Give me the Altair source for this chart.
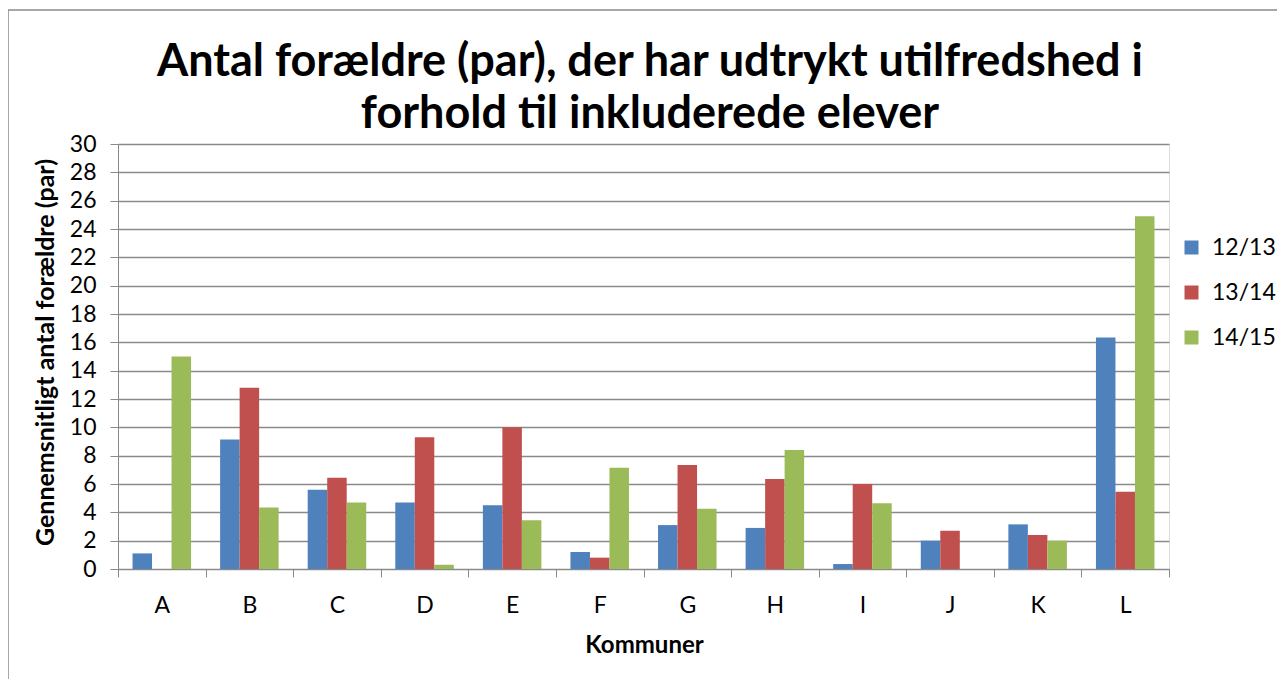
import altair as alt
import pandas as pd

kommuner = ["A", "B", "C", "D", "E", "F", "G", "H", "I", "J", "K", "L"]
series_names = ["12/13", "13/14", "14/15"]
v_12_13 = [1.1, 9.15, 5.6, 4.7, 4.5, 1.2, 3.1, 2.9, 0.35, 2.0, 3.15, 16.35]
v_13_14 = [0.0, 12.8, 6.45, 9.3, 10.0, 0.8, 7.35, 6.35, 6.0, 2.7, 2.4, 5.45]
v_14_15 = [15.0, 4.35, 4.7, 0.3, 3.45, 7.15, 4.25, 8.4, 4.65, 0.0, 2.0, 24.9]
colors = ["#4F81BD", "#C0504D", "#9BBB59"]
y_ticks = list(range(0, 31, 2))
title_lines = ["Antal forældre (par), der har udtrykt utilfredshed i",
               "forhold til inkluderede elever"]

rows = []
for name, vals in zip(series_names, [v_12_13, v_13_14, v_14_15]):
    for k, v in zip(kommuner, vals):
        rows.append({"Kommune": k, "Serie": name, "Værdi": v})
df = pd.DataFrame(rows)

FONT = "Lato"
GRID = "#8a8a8a"

bars = alt.Chart(df).mark_bar().encode(
    x=alt.X("Kommune:N", sort=kommuner,
            scale=alt.Scale(paddingInner=0, paddingOuter=0),
            axis=alt.Axis(title="Kommuner", labelAngle=0, tickBand="extent",
                          tickSize=8, tickColor=GRID, domainColor=GRID,
                          labelFontSize=23, labelFont=FONT, labelColor="#000",
                          labelPadding=17,
                          titleFont=FONT, titleFontSize=24, titleFontWeight="bold",
                          titleColor="#000", titleX=526, titleY=76,
                          titleBaseline="middle", titleAlign="center")),
    xOffset=alt.XOffset("Serie:N", sort=series_names,
                        scale=alt.Scale(paddingInner=0, paddingOuter=0.745)),
    y=alt.Y("Værdi:Q", scale=alt.Scale(domain=[0, 30], nice=False),
            axis=alt.Axis(title="Gennemsnitligt antal forældre (par)",
                          values=y_ticks, tickSize=8, tickColor=GRID,
                          domainColor=GRID, grid=True, gridColor=GRID,
                          gridWidth=1.3,
                          labelFontSize=23, labelFont=FONT, labelColor="#000",
                          labelPadding=14,
                          titleFont=FONT, titleFontSize=25, titleFontWeight="bold",
                          titleColor="#000", titleX=-73, titleY=208,
                          titleAngle=270, titleAlign="center",
                          titleBaseline="middle")),
    color=alt.Color("Serie:N", sort=series_names,
                    scale=alt.Scale(domain=series_names, range=colors),
                    legend=alt.Legend(title=None, orient="none",
                                      legendX=1062, legendY=92,
                                      symbolType="square", symbolSize=196,
                                      symbolStrokeWidth=0,
                                      labelFontSize=23, labelFont=FONT,
                                      labelColor="#000", labelOffset=9,
                                      rowPadding=21, padding=0)),
)

title1 = alt.Chart(alt.Data(values=[{"t": title_lines[0]}])).mark_text(
    font=FONT, fontSize=45, fontWeight="bold", color="#000",
    align="center", baseline="alphabetic"
).encode(text="t:N", x=alt.value(532), y=alt.value(-68))

title2 = alt.Chart(alt.Data(values=[{"t": title_lines[1]}])).mark_text(
    font=FONT, fontSize=45, fontWeight="bold", color="#000",
    align="center", baseline="alphabetic"
).encode(text="t:N", x=alt.value(532), y=alt.value(-16))

frame = alt.Chart(alt.Data(values=[{}])).mark_rect(
    fill=None, stroke="#8a8a8a", strokeWidth=1.5
).encode(
    x=alt.value(-110), x2=alt.value(1200),
    y=alt.value(-134), y2=alt.value(600),
)

chart = alt.layer(frame, bars, title1, title2).properties(
    width=1051,
    height=425,
    autosize=alt.AutoSizeParams(type="none"),
    padding={"left": 110, "top": 136, "right": 108, "bottom": 110},
).configure_view(stroke=None).configure(background="white")

chart.save("out.html", embed_options={"renderer": "svg", "actions": False})
